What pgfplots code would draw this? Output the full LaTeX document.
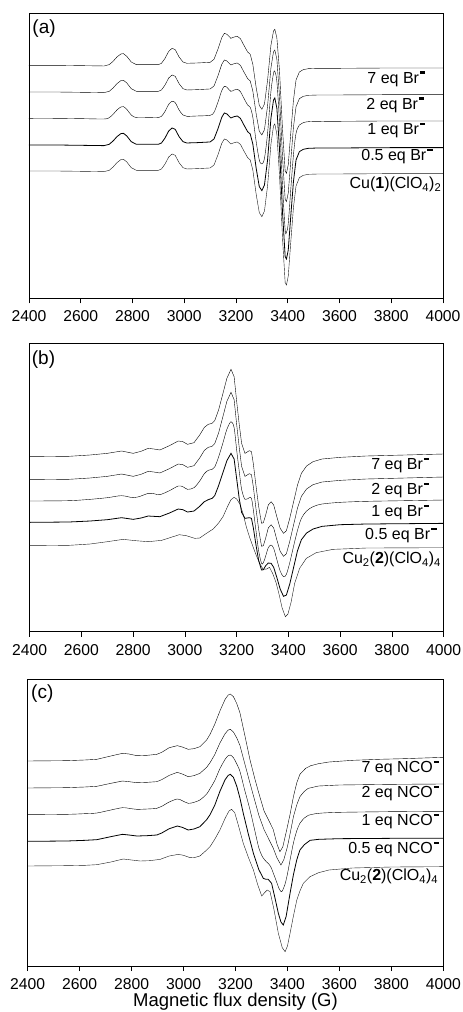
\documentclass[border=0pt]{standalone}
\usepackage{fontspec}
\setmainfont{Liberation Sans}
\usepackage{pgfplots}
\pgfplotsset{compat=1.18}
\usepackage{pgfplotstable}

\newcommand{\mn}{\hspace{0.06em}\rule[0.60em]{0.34em}{0.13em}}

% ---------- panel (a): relative shapes (a: Cu(1), 0.5 eq, 1 eq; b: 2 eq; c: 7 eq)
\pgfplotstableread{
x a b c
2400 0 0 0
2500 0 0 0
2600 1 1 1
2690 2 2 2
2710 -2 -2 -2
2725 -12 -12 -12
2740 -25 -25 -25
2755 -34 -34 -34
2765 -35 -35 -35
2778 -27 -27 -27
2795 -10 -10 -10
2815 -2 -2 -2
2860 -2 -2 -2
2900 -2 -2 -2
2912 -6 -6 -6
2925 -20 -20 -20
2940 -42 -42 -42
2953 -51 -51 -51
2965 -47 -47 -47
2980 -25 -25 -25
2995 -10 -10 -10
3010 -6 -6 -6
3050 -7 -7 -7
3100 -9 -9 -9
3115 -18 -18 -18
3130 -48 -48 -48
3145 -83 -83 -83
3155 -96 -96 -96
3165 -93 -93 -93
3180 -81 -81 -81
3193 -85 -85 -85
3205 -87 -87 -87
3217 -80 -80 -80
3232 -58 -58 -58
3245 -40 -40 -40
3255 -33 -33 -33
3265 -3 -3 -3
3278 70 66 67
3290 125 118 120
3300 137 129 132
3310 120 113 116
3322 45 42 45
3335 -80 -72 -60
3345 -135 -121 -103
3350 -141 -126 -108
3358 -110 -98 -82
3368 10 12 15
3380 205 197 195
3390 335 322 317
3395 342 329 324
3402 315 303 298
3412 210 203 200
3422 110 106 105
3432 45 44 44
3445 20 20 20
3460 13 13 13
3480 10 10 10
3520 9 9 9
3600 9 9 9
3800 8 8 8
4000 8 8 8
}\tabA

% ---------- panel (b)
\pgfplotstableread{
x s7 s1 s05
2400 0 0 0
2550 -1 -1 -1
2633 -5 -5 -4
2700 -10 -10 -8
2755 -17 -16 -14
2800 -10 -10 -9
2830 -16 -15 -13
2858 -25 -23 -19
2880 -23 -22 -18
2903 -20 -19 -17
2940 -33 -31 -28
2974 -47 -45 -40
2992 -45 -43 -38
3010 -37 -35 -31
3035 -42 -40 -34
3057 -65 -60 -48
3075 -88 -82 -62
3090 -97 -92 -68
3105 -100 -95 -72
3115 -108 -102 -80
3130 -140 -132 -110
3147 -190 -175 -150
3162 -235 -215 -185
3178 -262 -238 -207
3190 -240 -220 -190
3200 -165 -152 -130
3210 -95 -88 -70
3219 -40 -35 -30
3232 -10 -5 -12
3249 -18 -10 -14
3257 -15 -8 -12
3264 20 25 15
3275 90 92 70
3285 150 150 115
3296 200 187 143
3303 198 185 142
3312 175 165 130
3322 145 140 122
3333 135 132 123
3343 145 142 135
3355 180 175 165
3368 215 210 200
3381 230 227 222
3392 222 220 218
3405 185 185 185
3420 135 135 135
3435 85 88 85
3450 50 52 52
3470 28 30 32
3495 15 17 20
3530 7 9 12
3600 2 4 7
3700 -2 1 5
3850 -5 -1 4
4000 -8 -3 3
}\tabB

\pgfplotstableread{
x y
2400 0
2550 -1
2633 -5
2700 -12
2761 -19
2810 -15
2858 -12
2910 -16
2950 -26
2978 -33
3005 -30
3038 -22
3057 -23
3083 -37
3109 -50
3130 -68
3147 -87
3165 -118
3178 -138
3190 -145
3200 -140
3212 -125
3225 -95
3237 -57
3250 -25
3263 3
3276 30
3289 53
3302 71
3315 70
3327 65
3340 85
3353 113
3365 150
3375 185
3388 213
3398 205
3410 170
3424 113
3443 68
3469 38
3507 21
3572 11
3700 7
4000 6
}\tabBz

% ---------- panel (c)
\pgfplotstableread{
x y
2400 0
2550 -1
2620 -3
2666 -5
2720 -15
2765 -23
2790 -21
2820 -16
2860 -17
2897 -20
2916 -26
2945 -40
2976 -46
2995 -42
3018 -35
3040 -37
3063 -43
3089 -63
3102 -80
3120 -110
3140 -150
3160 -185
3172 -198
3180 -201
3192 -193
3205 -172
3217 -145
3237 -73
3256 -3
3275 55
3290 97
3310 150
3326 175
3345 205
3360 250
3371 272
3382 258
3397 207
3410 160
3423 107
3436 65
3448 40
3470 22
3490 14
3520 8
3560 3
3650 -2
3750 -5
3850 -7
4000 -11
}\tabCs

\pgfplotstableread{
x y
2400 0
2550 -1
2620 -3
2666 -5
2720 -14
2765 -21
2790 -19
2820 -16
2860 -17
2897 -19
2916 -25
2945 -38
2976 -47
2995 -42
3018 -34
3040 -37
3063 -44
3089 -62
3102 -76
3120 -100
3140 -135
3160 -163
3172 -174
3180 -176
3192 -168
3205 -150
3217 -128
3235 -75
3256 -14
3275 40
3290 82
3310 125
3326 150
3345 180
3360 210
3375 231
3386 215
3400 176
3412 130
3423 86
3436 50
3448 26
3465 10
3480 1
3520 -6
3600 -9
3800 -11
4000 -12
}\tabCt

\pgfplotstableread{
x y
2400 0
2550 -1
2620 -3
2666 -5
2720 -14
2765 -21
2790 -19
2820 -16
2860 -17
2897 -19
2916 -25
2945 -38
2976 -47
2995 -42
3018 -34
3040 -37
3063 -44
3089 -62
3102 -78
3120 -102
3140 -138
3160 -166
3172 -177
3180 -179
3192 -171
3205 -152
3217 -130
3235 -75
3256 -14
3275 50
3290 100
3305 128
3320 142
3335 155
3355 195
3368 222
3378 231
3390 210
3400 178
3410 136
3423 85
3436 48
3448 26
3465 10
3480 2
3520 -4
3600 -7
3800 -9
4000 -10
}\tabCo

\pgfplotstableread{
x y
2400 0
2550 -1
2620 -3
2666 -5
2720 -14
2765 -21
2790 -19
2820 -16
2860 -17
2897 -19
2916 -25
2945 -38
2976 -46
2995 -42
3018 -34
3040 -37
3063 -44
3089 -65
3102 -80
3120 -108
3140 -150
3160 -185
3172 -198
3180 -201
3192 -192
3205 -165
3217 -130
3230 -84
3250 -20
3269 36
3290 85
3307 111
3318 114
3326 114
3339 126
3352 170
3365 216
3375 242
3384 251
3395 225
3410 156
3423 100
3436 55
3448 26
3465 10
3487 -3
3520 -6
3600 -8
3800 -9
4000 -9
}\tabCh

\pgfplotstableread{
x y
2400 0
2550 -1
2620 -2
2666 -4
2720 -12
2768 -21
2800 -18
2833 -15
2870 -16
2910 -20
2945 -30
2980 -35
3000 -32
3025 -25
3045 -26
3063 -30
3089 -48
3102 -58
3120 -80
3140 -108
3160 -143
3175 -165
3185 -170
3197 -160
3210 -125
3230 -68
3250 -25
3269 12
3285 55
3301 90
3312 80
3322 72
3333 77
3348 130
3365 202
3380 245
3391 257
3400 240
3410 202
3423 150
3436 102
3448 75
3461 52
3487 32
3520 20
3560 12
3650 6
3800 3
4000 2
}\tabCz

\pgfplotsset{
  epr/.style={
    scale only axis,
    width=414pt,
    xmin=2400, xmax=4000,
    xtick={2400,2600,...,4000},
    ytick=\empty,
    y dir=reverse,
    tick align=outside,
    xtick pos=left,
    major tick length=5pt,
    axis line style={line width=0.8pt},
    every tick/.style={black, line width=0.8pt},
    xticklabel style={font=\fontsize{15.7}{18}\selectfont, yshift=-4pt},
    /pgf/number format/assume math mode=true,
    /pgf/number format/1000 sep={},
    cycle list={{black!90, line width=0.8pt, smooth, tension=0.5, mark=none}},
  }
}

\begin{document}
\begin{tikzpicture}[font=\fontsize{16}{19}\selectfont]
\path[use as bounding box] (0,0) rectangle (463pt,-1012pt);

% ================= (a)
\begin{axis}[epr, at={(29pt,-298.3pt)}, anchor=south west, height=285pt, ymin=40, ymax=895]
\addplot table[x=x, y expr=\thisrow{a}+513] {\tabA};
\addplot table[x=x, y expr=\thisrow{a}+435] {\tabA};
\addplot table[x=x, y expr=\thisrow{a}+355] {\tabA};
\addplot table[x=x, y expr=\thisrow{b}+276] {\tabA};
\addplot table[x=x, y expr=\thisrow{c}+196] {\tabA};
\node[anchor=north west, inner sep=0, font=\fontsize{19}{22}\selectfont] at (axis description cs:0,1) [xshift=3.3pt, yshift=-6.7pt] {(a)};
\node[anchor=east, inner sep=0] at (axis cs:3933,237) {7 eq Br\mn};
\node[anchor=east, inner sep=0] at (axis cs:3929,315) {2 eq Br\mn};
\node[anchor=east, inner sep=0] at (axis cs:3933,392) {1 eq Br\mn};
\node[anchor=east, inner sep=0] at (axis cs:3961,470) {0.5 eq Br\mn};
\node[anchor=east, inner sep=0] at (axis cs:3994,553) {Cu(\textbf{1})(ClO\textsubscript{4})\textsubscript{2}};
\end{axis}

% ================= (b)
\begin{axis}[epr, at={(29.7pt,-631.7pt)}, anchor=south west, height=288.4pt, ymin=40, ymax=905]
\addplot table[x=x, y expr=\thisrow{y}+647] {\tabBz};
\addplot table[x=x, y expr=\thisrow{s05}+577] {\tabB};
\addplot table[x=x, y expr=\thisrow{s1}+513] {\tabB};
\addplot table[x=x, y expr=\thisrow{s7}+449] {\tabB};
\addplot table[x=x, y expr=\thisrow{s7}+380] {\tabB};
\node[anchor=north west, inner sep=0, font=\fontsize{19}{22}\selectfont] at (axis description cs:0,1) [xshift=2pt, yshift=-7pt] {(b)};
\node[anchor=east, inner sep=0] at (axis cs:3945,405) {7 eq Br\mn};
\node[anchor=east, inner sep=0] at (axis cs:3945,480) {2 eq Br\mn};
\node[anchor=east, inner sep=0] at (axis cs:3945,548) {1 eq Br\mn};
\node[anchor=east, inner sep=0] at (axis cs:3973,615) {0.5 eq Br\mn};
\node[anchor=east, inner sep=0] at (axis cs:3990,688) {Cu\textsubscript{2}(\textbf{2})(ClO\textsubscript{4})\textsubscript{4}};
\end{axis}

% ================= (c)
\begin{axis}[epr, at={(27.7pt,-966pt)}, anchor=south west, width=415.6pt, height=286.7pt, ymin=58, ymax=918,
  xlabel={Magnetic flux density (G)},
  xlabel style={font=\fontsize{18.5}{22}\selectfont, at={(axis description cs:0.5,0)}, anchor=center, yshift=-35.7pt}]
\addplot table[x=x, y expr=\thisrow{y}+618] {\tabCz};
\addplot table[x=x, y expr=\thisrow{y}+544] {\tabCh};
\addplot table[x=x, y expr=\thisrow{y}+464] {\tabCo};
\addplot table[x=x, y expr=\thisrow{y}+384] {\tabCt};
\addplot table[x=x, y expr=\thisrow{y}+303] {\tabCs};
\node[anchor=north west, inner sep=0, font=\fontsize{19}{22}\selectfont] at (axis description cs:0,1) [xshift=3.3pt, yshift=-5.7pt] {(c)};
\node[anchor=east, inner sep=0] at (axis cs:3985,325) {7 eq NCO\mn};
\node[anchor=east, inner sep=0] at (axis cs:3985,400) {2 eq NCO\mn};
\node[anchor=east, inner sep=0] at (axis cs:3985,485) {1 eq NCO\mn};
\node[anchor=east, inner sep=0] at (axis cs:3985,567) {0.5 eq NCO\mn};
\node[anchor=east, inner sep=0] at (axis cs:3981,650) {Cu\textsubscript{2}(\textbf{2})(ClO\textsubscript{4})\textsubscript{4}};
\end{axis}
\end{tikzpicture}
\end{document}
